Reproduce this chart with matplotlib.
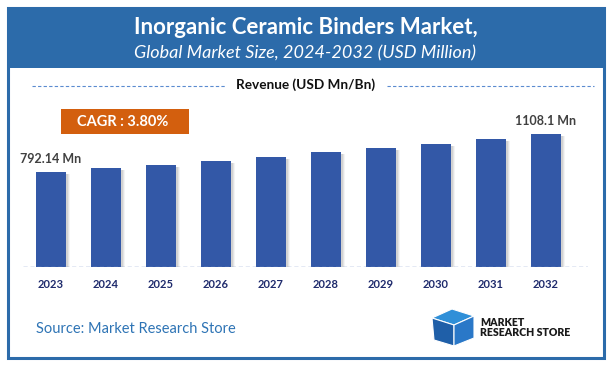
import matplotlib as mpl
import matplotlib.pyplot as plt
from matplotlib.patches import Rectangle, Polygon

mpl.rcParams.update({
    "font.family": ["Lato", "DejaVu Sans"],
})

years = ["2023", "2024", "2025", "2026", "2027", "2028", "2029", "2030", "2031", "2032"]
revenue = [792.14, 822.0, 853.0, 886.0, 920.0, 955.0, 991.0, 1029.0, 1068.0, 1108.1]
first_label = "792.14 Mn"
last_label = "1108.1 Mn"
cagr_text = "CAGR : 3.80%"

W, H = 612, 365
BLUE = "#2C6BAA"
BAR = "#3358A7"
NAVY = "#1E2A6C"

fig = plt.figure(figsize=(W / 100, H / 100), dpi=100)

# background layer in pixel coordinates
bg = fig.add_axes([0, 0, 1, 1])
bg.set_xlim(0, W)
bg.set_ylim(H, 0)
bg.axis("off")

bg.add_patch(Rectangle((8, 8), 596, 60, facecolor=BLUE, edgecolor="none", zorder=1))
bg.add_patch(Rectangle((8, 8), 596, 350, facecolor="none", edgecolor=BLUE, lw=2.2, zorder=2))

bg.text(306, 27, "Inorganic Ceramic Binders Market,", ha="center", va="center",
        fontsize=16, fontweight="bold", color="white")
bg.text(305, 53, "Global Market Size, 2024-2032 (USD Million)", ha="center", va="center",
        fontsize=13, style="italic", color="white")

bg.text(306, 85, "Revenue (USD Mn/Bn)", ha="center", va="center",
        fontsize=9.8, fontweight="bold", color="#111111")
bg.plot([32, 226], [86, 86], ls=(0, (3, 2)), lw=0.8, color="#5B8BD0")
bg.plot([387, 594], [86, 86], ls=(0, (3, 2)), lw=0.8, color="#5B8BD0")

# CAGR badge
bg.add_patch(Rectangle((61, 109), 128, 25, facecolor="#D35F0E", edgecolor="none"))
bg.text(123, 122, cagr_text, ha="center", va="center", fontsize=10.5,
        fontweight="bold", color="white")

# source and logo
bg.text(36, 329, "Source: Market Research Store", ha="left", va="center",
        fontsize=10.5, color="#2E74B5")
bg.add_patch(Polygon([(432, 318), (452, 309), (474, 316), (454, 325)],
                     closed=True, facecolor="#2F8FD8", edgecolor="white", lw=0.8))
bg.add_patch(Polygon([(432, 318), (454, 325), (454, 346), (434, 340)],
                     closed=True, facecolor="#1F5FA8", edgecolor="white", lw=0.8))
bg.add_patch(Polygon([(454, 325), (474, 316), (474, 338), (454, 346)],
                     closed=True, facecolor="#2A78C8", edgecolor="white", lw=0.8))
bg.text(480, 322, "MARKET", ha="left", va="center", fontsize=7.6,
        fontweight="heavy", color="#1A1A1A")
bg.text(480, 332, "RESEARCH STORE", ha="left", va="center", fontsize=7.6,
        fontweight="heavy", color="#1A1A1A")

# bar chart
ax = fig.add_axes([23 / W, (H - 267) / H, (588 - 23) / W, 167 / H])
x = list(range(len(years)))
ax.set_xlim(-0.509, 9.764)
ax.set_ylim(0, 167 * 8.335)

px = 1 / 55
for k, a in [(4, 0.08), (3, 0.12), (2, 0.16)]:
    ax.bar([i + k * px for i in x], [v - 2 * 8.335 for v in revenue], width=0.56,
           color="#777777", alpha=a, zorder=1)
ax.bar(x, revenue, width=0.56, color=BAR, zorder=2)

ax.axhline(0, color="#7A93C8", lw=1.0, ls=(0, (3, 2)), zorder=3)
ax.set_xticks(x)
ax.set_xticklabels(years, fontsize=8, fontweight="bold", color=NAVY)
ax.tick_params(axis="x", length=0, pad=9)
ax.set_yticks([])
for s in ax.spines.values():
    s.set_visible(False)
ax.patch.set_alpha(0)

ax.annotate(first_label, (0, revenue[0]), xytext=(0, 13), textcoords="offset pixels",
            ha="center", va="center", fontsize=9, fontweight="bold", color="#404040")
ax.annotate(last_label, (9, revenue[-1]), xytext=(0, 13), textcoords="offset pixels",
            ha="center", va="center", fontsize=9, fontweight="bold", color="#404040")

fig.savefig("out.png", dpi=100)
